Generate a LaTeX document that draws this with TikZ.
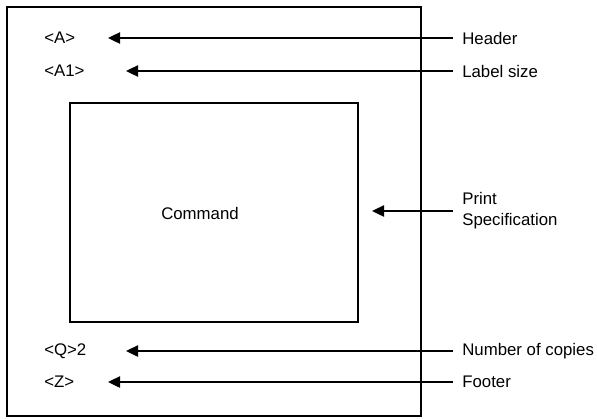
\documentclass[tikz,border=0pt]{standalone}
\usepackage{fontspec}
\setmainfont{Liberation Sans}
\usepackage{tikz}
\usetikzlibrary{arrows.meta}
\tikzset{field/.style={anchor=west,inner sep=0pt},
         part/.style={anchor=west,inner xsep=8pt,inner ysep=0pt,align=left},
         pointer/.style={line width=2.4pt,-{Triangle[length=12pt,width=11pt]}}}

\begin{document}
\begin{tikzpicture}[x=1pt,y=-1pt,line width=2.6pt,font=\fontsize{16.8}{21}\selectfont]
\useasboundingbox (0,0) rectangle (597,418);
\draw (7,7) rectangle (421,416);
\draw (70,103) rectangle (358,322);
\node (cmd) at (200,213) {Command};
\node[field] (a) at (43,38) {<A>};
\node[field] (a1) at (43,71) {<A1>};
\node[field] (q) at (43,351) {<Q>2};
\node[field] (z) at (43,382) {<Z>};
\node[part] (header) at (453,38) {Header};
\node[part] (size) at (453,71) {Label size};
\node[part] (spec) at (453,211) {Print\\Specification};
\node[part] (copies) at (453,351) {Number of copies};
\node[part] (footer) at (453,382) {Footer};
\coordinate (atip) at (108,38);
\coordinate (a1tip) at (126,71);
\coordinate (spectip) at (372,211);
\coordinate (qtip) at (126,351);
\coordinate (ztip) at (108,382);
\draw[pointer] (header.west) -- (atip);
\draw[pointer] (size.west) -- (a1tip);
\draw[pointer] (spec.west) -- (spectip);
\draw[pointer] (copies.west) -- (qtip);
\draw[pointer] (footer.west) -- (ztip);
\end{tikzpicture}
\end{document}
